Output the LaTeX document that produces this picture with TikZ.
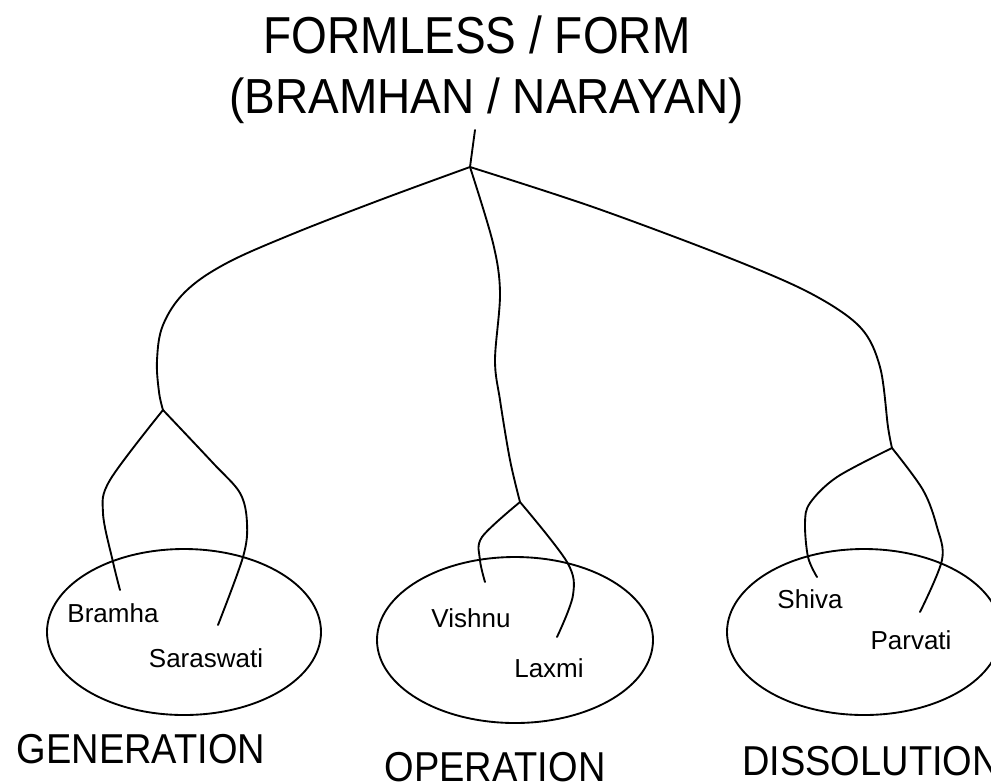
\documentclass[tikz,border=0pt]{standalone}
\usepackage{fontspec}
\setmainfont{Liberation Sans}
\usepackage{graphicx}
\usetikzlibrary{shapes.geometric}
\begin{document}
\begin{tikzpicture}[x=0.75pt,y=-0.75pt,
  wire/.style={line width=1.4pt, line join=round, line cap=round},
  oval/.style={draw, ellipse, line width=1.4pt, inner sep=0pt, minimum width=205.5pt, minimum height=124.5pt},
  godname/.style={font=\fontsize{19.5}{20}\selectfont, inner sep=0pt, anchor=base},
  phasetxt/.style={font=\fontsize{28.5}{30}\selectfont, inner sep=0pt, anchor=base},
  headtxt/.style={font=\fontsize{34.5}{36}\selectfont, inner sep=0pt, anchor=base}]
\useasboundingbox[fill=white] (0,0) rectangle (991,783);
\clip (0,0) rectangle (991,783);

% title
\node[headtxt] (t1) at (477,53) {\scalebox{1}[1.13]{FORMLESS / FORM}};
\node[headtxt] (t2) at (486.5,113) {\scalebox{1}[1.07]{(BRAMHAN / NARAYAN)}};

% ellipses
\node[oval] (genE) at (184,632) {};
\node[oval, minimum width=207pt] (opE) at (515,640) {};
\node[oval] (disE) at (864,632) {};

% names
\node[godname] (bramha) at (113,622) {Bramha};
\node[godname] (saras) at (206,667) {Saraswati};
\node[godname] (vishnu) at (471,627) {Vishnu};
\node[godname] (laxmi) at (549,677) {Laxmi};
\node[godname] (shiva) at (810,608) {Shiva};
\node[godname] (parvati) at (911,649) {Parvati};

% phases
\node[phasetxt] (gen) at (141,763) {\scalebox{1}[1.1]{GENERATION}};
\node[phasetxt] (op) at (495,781) {\scalebox{1}[1.1]{OPERATION}};
\node[phasetxt] (dis) at (871,775) {\scalebox{1}[1.1]{DISSOLUTION}};

% tree coordinates
\coordinate (top) at (475,130);
\coordinate (apex) at (470,167);
\coordinate (subL) at (163,410);
\coordinate (subC) at (520,502);
\coordinate (subR) at (892,448);
\coordinate (eBr) at (120,590);
\coordinate (eSa) at (218,625);
\coordinate (eVi) at (485,582);
\coordinate (eLa) at (557,637);
\coordinate (eSh) at (817,577);
\coordinate (ePa) at (920,612);

\draw[wire] (top) -- (apex);
\draw[wire] plot[smooth, tension=0.6] coordinates {(apex) (380,200) (290,235) (225,264) (185,292) (163,325) (157,360) (159,392) (subL)};
\draw[wire] plot[smooth, tension=0.55] coordinates {(apex) (493,243) (500,293) (495,360) (500,400) (510,460) (subC)};
\draw[wire] plot[smooth, tension=0.55] coordinates {(apex) (593,207) (727,257) (810,293) (860,327) (880,367) (888,427) (subR)};

\draw[wire] plot[smooth, tension=0.55] coordinates {(subL) (110,480) (103,513) (113,562) (eBr)};
\draw[wire] plot[smooth, tension=0.55] coordinates {(subL) (213,463) (240,493) (247,523) (243,557) (eSa)};
\draw[wire] plot[smooth, tension=0.55] coordinates {(subC) (482,537) (480,560) (eVi)};
\draw[wire] plot[smooth, tension=0.55] coordinates {(subC) (567,562) (573,595) (eLa)};
\draw[wire] plot[smooth, tension=0.55] coordinates {(subR) (837,477) (810,503) (805,523) (808,557) (eSh)};
\draw[wire] plot[smooth, tension=0.55] coordinates {(subR) (923,490) (937,527) (942,560) (ePa)};
\end{tikzpicture}
\end{document}
